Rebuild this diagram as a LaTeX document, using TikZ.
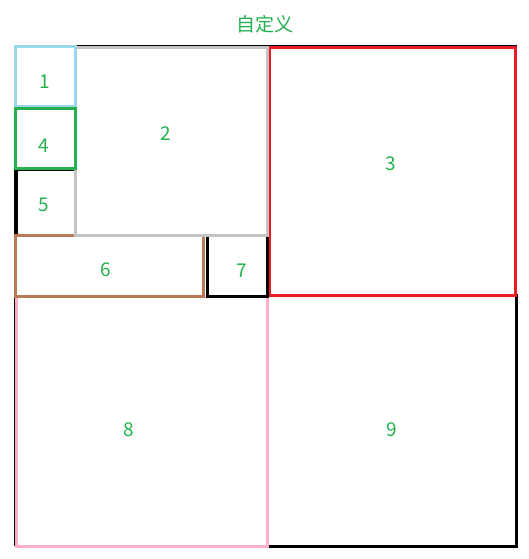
\documentclass[tikz,border=0pt]{standalone}
\usepackage{fontspec}
\setmainfont{Noto Sans CJK SC}
\definecolor{cblue}{HTML}{99D9EA}
\definecolor{cgreen}{HTML}{22B14C}
\definecolor{cgray}{HTML}{C3C3C3}
\definecolor{cred}{HTML}{ED1C24}
\definecolor{cbrown}{HTML}{B97A57}
\definecolor{cpink}{HTML}{FFAEC9}
\definecolor{ctext}{HTML}{22B14C}
\begin{document}
\begin{tikzpicture}[x=1pt,y=-1pt,
  cell/.style={draw=#1, line width=3pt, rectangle, inner sep=0pt},
  num/.style={text=ctext, font=\fontsize{19}{19}\selectfont, inner sep=0pt}]
\useasboundingbox (0,0) rectangle (529,559);
% title
\node[num] (title) at (265,24) {自定义};
% outer frame
\draw[line width=1pt] (14.5,45.5) rectangle (516,545);
\draw[line width=2.5pt] (516,47) -- (516,548);
% cells (later ones cover earlier ones where they overlap)
\node[cell=black, minimum width=249pt, minimum height=251pt] (b9) at (392,421) {};
\node[cell=cpink, minimum width=251pt, minimum height=250pt] (b8) at (142,421.5) {};
\node[cell=cred, minimum width=246pt, minimum height=248pt] (b3) at (392.5,171.5) {};
\node[cell=black, minimum width=59pt, minimum height=66pt] (b5) at (45.5,202) {};
\node[cell=cbrown, minimum width=188pt, minimum height=61pt] (b6) at (109.5,266) {};
\node[cell=black, minimum width=60pt, minimum height=61pt] (b7) at (237.5,266) {};
\node[cell=cgray, minimum width=192pt, minimum height=188pt] (b2) at (171.5,141.5) {};
\node[cell=cblue, minimum width=60pt, minimum height=60pt] (b1) at (45.5,76.5) {};
\node[cell=cgreen, minimum width=60pt, minimum height=60pt] (b4) at (45.5,138.5) {};
% labels
\node[num] (t1) at (44.5,82) {1};
\node[num] (t2) at (166,134) {2};
\node[num] (t3) at (391,164) {3};
\node[num] (t4) at (44,146) {4};
\node[num] (t5) at (44,205) {5};
\node[num] (t6) at (106,270) {6};
\node[num] (t7) at (242,271) {7};
\node[num] (t8) at (129,430) {8};
\node[num] (t9) at (392,430) {9};
\end{tikzpicture}
\end{document}
